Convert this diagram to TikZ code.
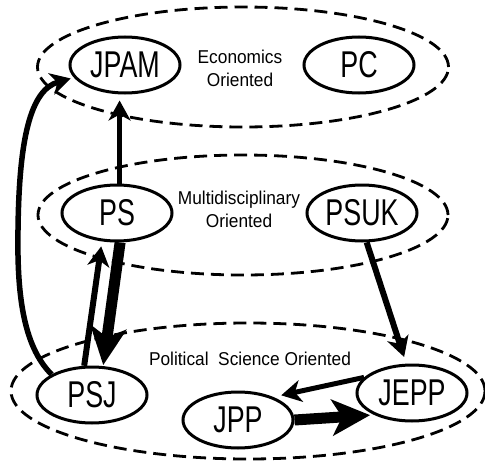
\documentclass[tikz,border=0pt]{standalone}
\usepackage{fontspec}
\setmainfont{Liberation Sans}
\newfontfamily\journalfont[FakeStretch=0.72]{Liberation Sans}
\newfontfamily\groupfont[FakeStretch=0.93]{Liberation Sans}
\usetikzlibrary{
    arrows.meta,
    shapes.geometric,
    positioning
}
\tikzset{
    journal/.style={draw, ellipse, line width=3pt, inner sep=0pt,
        minimum width=110pt, minimum height=56pt,
        font=\journalfont\fontsize{37.3}{37.3}\selectfont},
    group/.style={draw, ellipse, dashed, line width=2.8pt,
        dash pattern=on 13pt off 7pt},
    grouplabel/.style={align=center, inner sep=0pt,
        font=\groupfont\fontsize{18.6}{23}\selectfont},
    cite/.style={-{Stealth[length=20pt, width=22pt, inset=6pt]}, line width=5.5pt},
    heavycite/.style={-{Stealth[length=38pt, width=36pt, inset=10pt]}, line width=11pt}
}

\begin{document}
\begin{tikzpicture}[x=1pt, y=-1pt]
                    \useasboundingbox (0, 0) rectangle (485, 463);

                    % the three groups
                    \node[group, minimum width=411pt, minimum height=120pt] (econ) at (243, 67) {};
                    \node[group, minimum width=410pt, minimum height=120pt] (multi) at (243, 215) {};
                    \node[group, minimum width=474pt, minimum height=136pt] (polsci) at (248, 391) {};

                    \node[grouplabel] (econlabel) at (240, 68) {Economics\\Oriented};
                    \node[grouplabel] (multilabel) at (239, 209) {Multidisciplinary\\Oriented};
                    \node[grouplabel] (polscilabel) at (250, 359) {Political\ \ Science Oriented};

                    % journals
                    \node[journal] (jpam) at (125, 65) {JPAM};
                    \node[journal] (pc) at (359, 65) {PC};
                    \node[journal] (ps) at (117, 213) {PS};
                    \node[journal] (psuk) at (362, 213) {PSUK};
                    \node[journal] (psj) at (92, 395) {PSJ};
                    \node[journal] (jepp) at (412, 393) {JEPP};
                    \node[journal] (jpp) at (238, 420) {JPP};

                    \draw
                    (ps.85) edge[cite, line width=5pt, shorten >=6pt] (ps.85 |- jpam.south)
                    (psj.105) edge[cite, line width=6pt, shorten >=5pt] (ps.242)
                    (ps.276) edge[heavycite, shorten >=1pt] (psj.69)
                    (psuk.279) edge[cite, line width=6pt, shorten >=7pt] (jepp.101)
                    (jepp.162) edge[cite, line width=5pt, shorten >=8pt] (jpp.33)
                    (jpp.0) edge[heavycite, shorten >=4pt] (jepp.210);

                    \draw[cite]
                    (psj.153) .. controls (22, 345) and (17, 290) .. (18, 230)
                    .. controls (19, 140) and (30, 90) .. ([xshift=-4pt]jpam.195);
                \end{tikzpicture}
\end{document}
